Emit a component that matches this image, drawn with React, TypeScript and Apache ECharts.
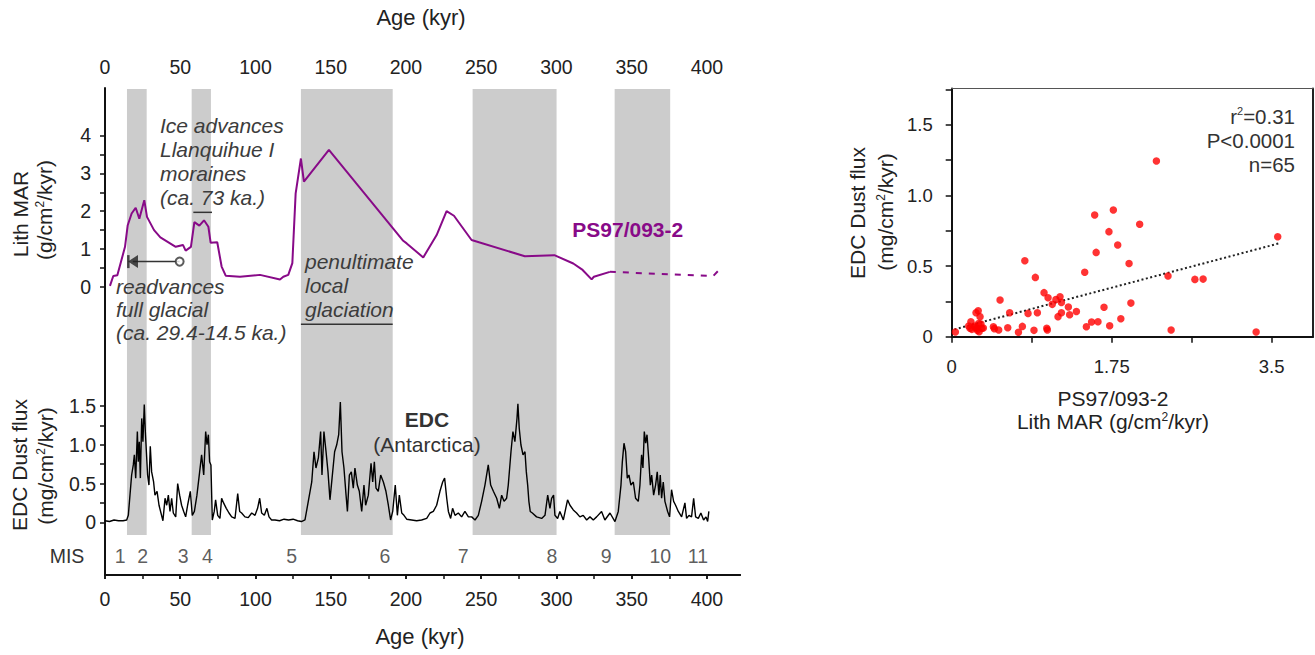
import React, { useEffect, useRef } from "react";
import * as echarts from "echarts";

const FONT = '"Liberation Sans", Arial, Helvetica, sans-serif';
const PURPLE = "#880a88";
const TEXT = "#222";
const NOTE = "#3c3c3c";

// ---------- Left panel data ----------
const AGE_MAX = 422;
const ageTickValues = [0, 25, 50, 75, 100, 125, 150, 175, 200, 225, 250, 275, 300, 325, 350, 375, 400];
const ageLabelValues = [0, 50, 100, 150, 200, 250, 300, 350, 400];

// glacial (even MIS) bands, kyr
const glacialBands = [
  [14.6, 27.7],
  [57.6, 70.4],
  [130.2, 191.2],
  [244.3, 300.1],
  [338.7, 375.6],
];

const misNumbers = ["1", "2", "3", "4", "5", "6", "7", "8", "9", "10", "11"];
const misAges = [10, 25, 52, 68, 124, 186, 238, 297, 333, 369, 394];

// PS97/093-2 Lith MAR (g/cm2/kyr)
const lithAge = [3.3, 5.5, 8.2, 13.3, 15.1, 17.7, 20.4, 22.8, 26.1, 27.9, 32.6, 36.8, 47.0, 51.8, 53.6, 57.1, 59.4, 62.7, 65.8, 68.7, 70.2, 74.6, 77.5, 80.2, 89.7, 103, 116.3, 118.5, 121.8, 124.5, 126.7, 130.2, 132.2, 148.8, 198.2, 200.5, 211.5, 220.4, 227, 231.9, 243.6, 279, 298.6, 311.2, 317.4, 323.4, 324.9, 335.5];
const lithMAR = [0.03, 0.29, 0.31, 1.06, 1.63, 1.94, 2.09, 1.8, 2.29, 1.85, 1.5, 1.31, 1.06, 1.11, 0.96, 1.06, 1.71, 1.62, 1.76, 1.59, 1.17, 1.18, 0.54, 0.3, 0.27, 0.32, 0.2, 0.27, 0.32, 0.63, 2.47, 3.39, 2.78, 3.62, 1.22, 1.15, 0.78, 1.37, 2.0, 1.88, 1.24, 0.81, 0.84, 0.62, 0.45, 0.2, 0.27, 0.4];
const lithDashAge = [335.5, 404.2, 408.6];
const lithDashMAR = [0.4, 0.29, 0.47];

// annotation markers (age kyr, Lith MAR units)
const llanquihueBar = [[58.7, 1.97], [71.1, 1.97]];
const penultimateBar = [[130.2, -0.98], [191.2, -0.98]];
const readvanceArrow = [[49.6, 0.67], [18.5, 0.67]];
const readvanceHead = [18.6, 0.67];
const readvanceStop = [15.5, 0.67];
const readvanceStart = [49.6, 0.67];

// EDC dust flux (mg/cm2/kyr): [age kyr, flux]
const edcRecord = [
  [0, 0.02], [3, 0.01], [6, 0.03], [9, 0.02], [12, 0.02], [14.4, 0.03], [15.5, 0.09], [16.6, 0.35], [17.7, 0.61], [18.8, 0.74],
  [19.5, 0.87], [20.4, 0.57], [21.5, 1.17], [22.1, 0.78], [22.8, 1.04], [23.5, 0.57], [24.4, 1.34], [25.2, 1.04], [26.1, 1.52], [26.8, 1.17],
  [27.5, 0.91], [28.3, 0.61], [29.2, 0.48], [30.1, 0.98], [31.0, 0.65], [32.3, 0.52], [33.2, 0.35], [34.6, 0.4], [35.9, 0.22], [37.2, 0.12],
  [38.5, 0.02], [39.9, 0.31], [41.0, 0.22], [42.1, 0.35], [43.2, 0.14], [44.3, 0.31], [45.4, 0.12], [47.0, 0.07], [48.3, 0.5], [49.6, 0.35],
  [50.9, 0.22], [52.3, 0.14], [53.6, 0.07], [54.9, 0.22], [56.7, 0.4], [58.0, 0.09], [59.4, 0.14], [61.1, 0.35], [62.9, 0.65], [64.2, 0.87],
  [65.6, 0.61], [66.9, 1.17], [67.8, 1.0], [68.7, 1.13], [69.5, 0.78], [70.4, 0.74], [71.3, 0.03], [72.6, 0.14], [73.5, 0.29], [74.9, 0.09],
  [76.4, 0.05], [77.5, 0.31], [78.8, 0.25], [80.6, 0.18], [82.4, 0.12], [84.2, 0.07], [86.4, 0.05], [88.2, 0.37], [89.5, 0.14], [90.8, 0.12],
  [93.0, 0.07], [95.2, 0.06], [97.5, 0.12], [99.7, 0.09], [101.4, 0.18], [102.8, 0.31], [104.1, 0.12], [105.9, 0.09], [107.6, 0.18], [109.0, 0.07],
  [110.7, 0.03], [113, 0.03], [116, 0.02], [119, 0.04], [122, 0.03], [125, 0.04], [128, 0.02], [130.5, 0.01], [132.9, 0.03], [135.1, 0.27],
  [137.4, 0.52], [138.9, 0.91], [140.2, 0.7], [141.8, 0.83], [143.3, 1.17], [144.2, 0.61], [145.5, 1.17], [146.9, 0.91], [148.2, 0.65], [149.5, 0.29],
  [150.9, 0.57], [152.6, 0.91], [154.0, 1.0], [155.3, 1.13], [156.4, 1.55], [157.5, 0.91], [158.8, 0.7], [160.2, 0.35], [161.1, 0.14], [162.4, 0.61],
  [163.7, 0.65], [165.0, 0.44], [166.1, 0.7], [167.7, 0.48], [169.0, 0.4], [170.6, 0.14], [172.1, 0.48], [173.2, 0.22], [175.0, 0.35], [176.8, 0.76],
  [177.9, 0.52], [179.0, 0.78], [180.1, 0.44], [181.6, 0.4], [183.2, 0.61], [185.0, 0.52], [186.7, 0.4], [188.3, 0.22], [189.8, 0.03], [191.2, 0.14],
  [192.9, 0.48], [194.3, 0.09], [195.6, 0.35], [197.2, 0.12], [198.7, 0.09], [200.5, 0.04], [203.8, 0.03], [207.1, 0.02], [210.4, 0.03], [213.8, 0.05],
  [216.0, 0.12], [218.2, 0.14], [220.4, 0.22], [222.6, 0.4], [224.4, 0.52], [225.7, 0.57], [227.1, 0.31], [228.2, 0.14], [229.7, 0.05], [231.0, 0.18],
  [232.6, 0.09], [234.8, 0.12], [237.0, 0.07], [239.2, 0.14], [241.5, 0.07], [243.7, 0.07], [245.9, 0.03], [248.1, 0.09], [250.3, 0.27], [252.5, 0.48],
  [254.7, 0.74], [256.3, 0.48], [258.1, 0.4], [260.3, 0.31], [262.1, 0.18], [263.6, 0.35], [265.2, 0.27], [266.9, 0.31], [268.0, 0.48], [269.8, 0.91],
  [271.1, 1.17], [272.4, 1.04], [273.8, 1.34], [274.4, 1.53], [275.3, 1.21], [276.4, 1.0], [277.8, 0.87], [279.1, 0.91], [280.0, 0.65], [280.9, 0.48],
  [281.7, 0.27], [282.6, 0.14], [284.0, 0.12], [286.8, 0.07], [290.2, 0.05], [292.4, 0.09], [294.2, 0.35], [295.7, 0.18], [296.8, 0.31], [298.1, 0.35],
  [299.0, 0.09], [300.8, 0.05], [302.3, 0.14], [304.6, 0.03], [307.4, 0.29], [309.0, 0.22], [311.2, 0.16], [313.4, 0.12], [315.6, 0.07], [317.8, 0.09],
  [320.1, 0.03], [322.3, 0.07], [324.5, 0.03], [326.7, 0.07], [330.0, 0.14], [332.2, 0.03], [335.6, 0.12], [338.9, 0.01], [341.1, 0.14], [342.9, 0.48],
  [343.8, 0.78], [344.9, 1.02], [346.0, 0.91], [347.1, 0.57], [348.2, 0.61], [349.5, 0.48], [351.1, 0.52], [352.6, 0.31], [354.4, 0.27], [355.5, 0.48],
  [356.6, 0.87], [357.5, 0.7], [358.4, 1.17], [359.3, 1.02], [360.2, 1.13], [361.3, 0.83], [362.4, 0.48], [363.3, 0.61], [364.6, 0.35], [365.9, 0.48],
  [367.0, 0.65], [368.1, 0.35], [369.0, 0.61], [369.9, 0.31], [371.0, 0.52], [372.1, 0.27], [373.9, 0.14], [375.2, 0.07], [376.5, 0.42], [377.9, 0.27],
  [379.2, 0.22], [381.0, 0.14], [383.2, 0.07], [385.4, 0.25], [386.5, 0.05], [388.1, 0.09], [389.8, 0.07], [391.2, 0.31], [392.5, 0.07], [394.3, 0.05],
  [396.0, 0.12], [397.8, 0.03], [399.4, 0.07], [400.5, 0.01], [401.3, 0.14],
];

// ---------- Right panel data ----------
// [PS97/093-2 Lith MAR, EDC dust flux]
const scatterPoints = [
  [0.04, 0.033], [0.186, 0.076], [0.21, 0.106], [0.22, 0.052], [0.26, 0.066], [0.266, 0.17], [0.29, 0.184], [0.31, 0.142], [0.295, 0.094], [0.277, 0.059],
  [0.3, 0.035], [0.33, 0.059], [0.346, 0.061], [0.2, 0.06], [0.25, 0.075], [0.32, 0.09], [0.28, 0.045], [0.456, 0.071], [0.467, 0.057], [0.514, 0.047],
  [0.529, 0.26], [0.613, 0.064], [0.634, 0.17], [0.73, 0.031], [0.773, 0.073], [0.8, 0.538], [0.835, 0.165], [0.9, 0.045], [0.915, 0.42], [0.937, 0.17],
  [1.01, 0.312], [1.04, 0.059], [1.046, 0.047], [1.054, 0.276], [1.1, 0.229], [1.14, 0.264], [1.163, 0.142], [1.185, 0.283], [1.2, 0.243], [1.2, 0.17],
  [1.276, 0.21], [1.29, 0.156], [1.364, 0.179], [1.455, 0.456], [1.473, 0.071], [1.53, 0.104], [1.564, 0.862], [1.58, 0.597], [1.6, 0.106], [1.666, 0.208],
  [1.72, 0.744], [1.728, 0.078], [1.768, 0.897], [1.816, 0.649], [1.85, 0.127], [1.94, 0.519], [1.96, 0.238], [2.056, 0.796], [2.239, 1.244], [2.366, 0.43],
  [2.4, 0.047], [2.66, 0.406], [2.75, 0.408], [3.33, 0.033], [3.566, 0.708],
];
const trendLine = [[0.03, 0.052], [3.58, 0.661]];
const statLines = ["r{s|2}=0.31", "P<0.0001", "n=65"];

const SCAT_X_MAX = 3.952;
const SCAT_Y_MAX = 1.758;
const scatXTicks = [0, 0.875, 1.75, 2.625, 3.5];
const scatXLabels = [0, 1.75, 3.5];
const scatYTicks = [0, 0.25, 0.5, 0.75, 1.0, 1.25, 1.5, 1.75];
const scatYLabels = [0, 0.5, 1.0, 1.5];
const lithYTicks = [0, 0.5, 1, 1.5, 2, 2.5, 3, 3.5, 4];
const lithYLabels = [0, 1, 2, 3, 4];
const edcYTicks = [0, 0.25, 0.5, 0.75, 1.0, 1.25, 1.5];
const edcYLabels = [0, 0.5, 1.0, 1.5];

const fmtDec = (v: number) => (v === 0 ? "0" : v.toFixed(1));

function txt(text: string, x: number, y: number, opts: any = {}) {
  const fontSize = opts.fontSize || 21;
  const fill = opts.fill || TEXT;
  return {
    type: "text",
    x,
    y,
    rotation: opts.rotation || 0,
    z: 100,
    silent: true,
    style: {
      text,
      fill,
      fontSize,
      fontFamily: FONT,
      fontStyle: opts.fontStyle || "normal",
      fontWeight: opts.fontWeight || "normal",
      textAlign: opts.align || "center",
      align: opts.align || "center",
      textVerticalAlign: opts.vAlign || "middle",
      verticalAlign: opts.vAlign || "middle",
      lineHeight: opts.lineHeight,
      rich: {
        s: { fontSize: Math.round(fontSize * 0.55), fontFamily: FONT, fill, verticalAlign: "top", lineHeight: fontSize },
      },
    },
  };
}

const hiddenX = (gridIndex: number) => ({ gridIndex, type: "value", min: 0, max: AGE_MAX, show: false });

export default function App() {
  const ref = useRef<HTMLDivElement>(null);

  useEffect(() => {
    document.body.style.margin = "0";
    const chart = echarts.init(ref.current!, null, { renderer: "svg" });

    const axisLineStyle = { color: "#111", width: 2 };
    const labelStyle = { color: TEXT, fontFamily: FONT, fontSize: 19.5 };

    const option: any = {
      animation: false,
      backgroundColor: "#fff",
      textStyle: { fontFamily: FONT },
      grid: [
        { left: 105, top: 88, width: 635, height: 487 }, // 0 frame
        { left: 105, top: 89, width: 635, height: 446 }, // 1 bands
        { left: 105, top: 135.4, width: 635, height: 151.6 }, // 2 lith
        { left: 105, top: 406, width: 635, height: 116.3 }, // 3 edc
        { left: 951.7, top: 88.5, width: 361.3, height: 248.2 }, // 4 scatter
      ],
      xAxis: [
        {
          gridIndex: 0, type: "value", position: "top", min: 0, max: AGE_MAX,
          axisLine: { show: true, lineStyle: axisLineStyle },
          axisTick: { show: true, inside: true, length: 4, lineStyle: { color: "#111", width: 1.5 }, customValues: ageTickValues },
          axisLabel: { ...labelStyle, margin: 11, customValues: ageLabelValues },
          splitLine: { show: false },
        },
        {
          gridIndex: 0, type: "value", position: "bottom", min: 0, max: AGE_MAX,
          axisLine: { show: true, onZero: false, lineStyle: axisLineStyle },
          axisTick: { show: true, inside: false, length: 4, lineStyle: { color: "#111", width: 1.5 }, customValues: ageLabelValues },
          axisLabel: { ...labelStyle, margin: 14, customValues: ageLabelValues },
          splitLine: { show: false },
        },
        hiddenX(1),
        hiddenX(2),
        hiddenX(3),
        {
          gridIndex: 4, type: "value", position: "bottom", min: 0, max: SCAT_X_MAX,
          axisLine: { show: true, onZero: false, lineStyle: axisLineStyle },
          axisTick: { show: true, length: 6, lineStyle: { color: "#111", width: 1.5 }, customValues: scatXTicks },
          axisLabel: { ...labelStyle, fontSize: 18.5, margin: 20, customValues: scatXLabels, formatter: (v: number) => (v === 0 ? "0" : String(v)) },
          splitLine: { show: false },
        },
        {
          gridIndex: 4, type: "value", position: "top", min: 0, max: SCAT_X_MAX,
          axisLine: { show: true, onZero: false, lineStyle: { color: "#555", width: 1.2 } },
          axisTick: { show: false }, axisLabel: { show: false }, splitLine: { show: false },
        },
      ],
      yAxis: [
        {
          gridIndex: 0, type: "value", min: 0, max: 1,
          axisLine: { show: true, onZero: false, lineStyle: axisLineStyle },
          axisTick: { show: false }, axisLabel: { show: false }, splitLine: { show: false },
        },
        { gridIndex: 1, type: "value", min: 0, max: 1, show: false },
        {
          gridIndex: 2, type: "value", min: 0, max: 4,
          axisLine: { show: false },
          axisTick: { show: true, length: 5, lineStyle: { color: "#111", width: 1.5 }, customValues: lithYTicks },
          axisLabel: { ...labelStyle, margin: 14, customValues: lithYLabels },
          splitLine: { show: false },
        },
        {
          gridIndex: 3, type: "value", min: 0, max: 1.5,
          axisLine: { show: false },
          axisTick: { show: true, length: 5, lineStyle: { color: "#111", width: 1.5 }, customValues: edcYTicks },
          axisLabel: { ...labelStyle, margin: 9, customValues: edcYLabels, formatter: fmtDec },
          splitLine: { show: false },
        },
        {
          gridIndex: 4, type: "value", min: 0, max: SCAT_Y_MAX,
          axisLine: { show: true, onZero: false, lineStyle: axisLineStyle },
          axisTick: { show: true, length: 6, lineStyle: { color: "#111", width: 1.5 }, customValues: scatYTicks },
          axisLabel: { ...labelStyle, fontSize: 18.5, margin: 19, customValues: scatYLabels, formatter: fmtDec },
          splitLine: { show: false },
        },
        {
          gridIndex: 4, type: "value", position: "right", min: 0, max: SCAT_Y_MAX,
          axisLine: { show: true, onZero: false, lineStyle: { color: "#222", width: 2 } },
          axisTick: { show: false }, axisLabel: { show: false }, splitLine: { show: false },
        },
      ],
      series: [
        {
          type: "line", xAxisIndex: 2, yAxisIndex: 1, z: 0, silent: true,
          data: [[0, 0]], symbol: "none", lineStyle: { opacity: 0 },
          markArea: {
            silent: true,
            itemStyle: { color: "#cccccc" },
            data: glacialBands.map((b) => [{ xAxis: b[0] }, { xAxis: b[1] }]),
          },
        },
        {
          type: "line", xAxisIndex: 3, yAxisIndex: 2, z: 5, symbol: "none", clip: false,
          data: lithAge.map((a, i) => [a, lithMAR[i]]),
          lineStyle: { color: PURPLE, width: 2 },
        },
        {
          type: "line", xAxisIndex: 3, yAxisIndex: 2, z: 5, symbol: "none", clip: false,
          data: lithDashAge.map((a, i) => [a, lithDashMAR[i]]),
          lineStyle: { color: PURPLE, width: 2, type: [6, 7] },
        },
        {
          type: "line", xAxisIndex: 3, yAxisIndex: 2, z: 5, symbol: "none", clip: false,
          data: llanquihueBar, lineStyle: { color: "#333", width: 1.5 },
        },
        {
          type: "line", xAxisIndex: 3, yAxisIndex: 2, z: 5, symbol: "none", clip: false,
          data: penultimateBar, lineStyle: { color: "#333", width: 1.5 },
        },
        {
          type: "line", xAxisIndex: 3, yAxisIndex: 2, z: 5, symbol: "none", clip: false,
          data: readvanceArrow, lineStyle: { color: "#333", width: 1.5 },
        },
        {
          type: "scatter", xAxisIndex: 3, yAxisIndex: 2, z: 6, clip: false,
          data: [readvanceHead], symbol: "triangle", symbolSize: [13, 10], symbolRotate: 90,
          itemStyle: { color: "#222" },
        },
        {
          type: "scatter", xAxisIndex: 3, yAxisIndex: 2, z: 6, clip: false,
          data: [readvanceStop], symbol: "rect", symbolSize: [2.5, 13],
          itemStyle: { color: "#222" },
        },
        {
          type: "scatter", xAxisIndex: 3, yAxisIndex: 2, z: 6, clip: false,
          data: [readvanceStart], symbol: "circle", symbolSize: 8,
          itemStyle: { color: "#fff", borderColor: "#333", borderWidth: 2 },
        },
        {
          type: "line", xAxisIndex: 4, yAxisIndex: 3, z: 5, symbol: "none", clip: false,
          data: edcRecord, lineStyle: { color: "#000", width: 1.4 },
        },
        {
          type: "scatter", xAxisIndex: 4, yAxisIndex: 3, z: 6, clip: false,
          data: misAges.map((a, i) => ({ value: [a, -0.435], name: misNumbers[i] })),
          symbolSize: 1, itemStyle: { color: "rgba(0,0,0,0)" },
          label: { show: true, position: "inside", formatter: "{b}", color: "#333", fontSize: 19.5, fontFamily: FONT },
        },
        {
          type: "scatter", xAxisIndex: 5, yAxisIndex: 4, z: 5,
          data: scatterPoints, symbolSize: 7.5, itemStyle: { color: "#ff0000" },
        },
        {
          type: "line", xAxisIndex: 5, yAxisIndex: 4, z: 4, symbol: "none",
          data: trendLine, lineStyle: { color: "#222", width: 2, type: [2, 2.5] },
        },
      ],
      graphic: [
        txt("Age (kyr)", 421, 17, { fontSize: 22 }),
        txt("Age (kyr)", 420, 636, { fontSize: 22 }),
        txt("Lith MAR", 20.7, 214, { rotation: Math.PI / 2 }),
        txt("(g/cm{s|2}/kyr)", 44, 210, { rotation: Math.PI / 2 }),
        txt("EDC Dust flux", 19, 465, { rotation: Math.PI / 2 }),
        txt("(mg/cm{s|2}/kyr)", 45, 466, { rotation: Math.PI / 2 }),
        txt("MIS", 67, 556, { fontSize: 19.5, fill: "#333" }),
        txt("Ice advances\nLlanquihue I\nmoraines\n(ca. 73 ka.)", 160, 113, { fontStyle: "italic", fill: NOTE, align: "left", vAlign: "top", lineHeight: 24 }),
        txt("readvances\nfull glacial\n(ca. 29.4-14.5 ka.)", 116, 274.5, { fontStyle: "italic", fill: NOTE, align: "left", vAlign: "top", lineHeight: 23 }),
        txt("penultimate\nlocal\nglaciation", 305, 249.7, { fontStyle: "italic", fill: NOTE, align: "left", vAlign: "top", lineHeight: 24 }),
        txt("PS97/093-2", 572.3, 229.3, { fontWeight: "bold", fill: PURPLE, align: "left" }),
        txt("EDC", 427, 419, { fontWeight: "bold", fill: "#333" }),
        txt("(Antarctica)", 427, 444, { fill: "#333" }),
        ...statLines.map((s, i) => txt(s, 1295, 116 + i * 24, { fontSize: 20.5, fill: "#333", align: "right" })),
        txt("EDC Dust flux", 857.5, 213, { rotation: Math.PI / 2 }),
        txt("(mg/cm{s|2}/kyr)", 885, 212, { rotation: Math.PI / 2 }),
        txt("PS97/093-2", 1113, 398),
        txt("Lith MAR (g/cm{s|2}/kyr)", 1113, 421.7),
      ],
    };

    chart.setOption(option);
    return () => chart.dispose();
  }, []);

  return <div ref={ref} style={{ position: "absolute", left: 0, top: 0, width: 1315, height: 655 }} />;
}
